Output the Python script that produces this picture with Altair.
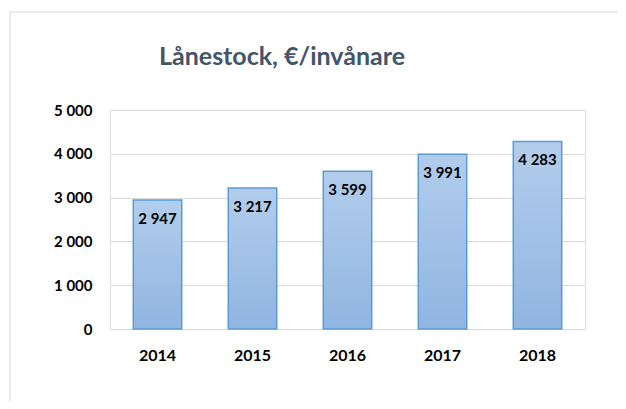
import altair as alt
import pandas as pd

years = ["2014", "2015", "2016", "2017", "2018"]
values = [2947, 3217, 3599, 3991, 4283]
y_ticks = [0, 1000, 2000, 3000, 4000, 5000]
title_text = "Lånestock, €/invånare"

df = pd.DataFrame({"year": years, "value": values})

FONT = "Lato"
W, H = 475, 219

x_enc = alt.X("year:N", sort=years, title=None,
              scale=alt.Scale(paddingInner=0.49, paddingOuter=0.245),
              axis=alt.Axis(labelAngle=0, labelFont=FONT, labelFontSize=16,
                            labelFontWeight="bold", labelColor="#000000",
                            labelPadding=18, ticks=False, domain=False, grid=False))
y_enc = alt.Y("value:Q", title=None,
              scale=alt.Scale(domain=[0, 5000], nice=False),
              axis=alt.Axis(values=y_ticks, labelFont=FONT, labelFontSize=15,
                            labelFontWeight="bold", labelColor="#000000",
                            labelPadding=18, ticks=False, domain=False,
                            grid=True, gridColor="#d9d9d9", gridWidth=1,
                            labelExpr="replace(format(datum.value, ','), ',', ' ')"))

base = alt.Chart(df)

bars = base.mark_bar(
    fill=alt.Gradient(gradient="linear", x1=0, y1=0, x2=0, y2=1,
                      stops=[alt.GradientStop(offset=0, color="#b2cdec"),
                             alt.GradientStop(offset=1, color="#90b5e1")]),
    stroke="#5b9bd5", strokeWidth=1.5,
).encode(x=x_enc, y=y_enc)

labels = base.transform_calculate(
    label="replace(format(datum.value, ','), ',', ' ')"
).mark_text(font=FONT, fontSize=15, fontWeight="bold", color="#000000",
            baseline="middle", dy=19).encode(
    x=alt.X("year:N", sort=years), y="value:Q", text="label:N")

title = alt.Chart(pd.DataFrame({"t": [title_text]})).mark_text(
    font=FONT, fontSize=25, fontWeight="bold", color="#44546a",
    align="center", baseline="middle").encode(
    x=alt.value(172), y=alt.value(-53), text="t:N")

frame_left = alt.Chart(pd.DataFrame({"a": [0]})).mark_rule(
    color="#d9d9d9", strokeWidth=1).encode(
    x=alt.value(-100), y=alt.value(-98), y2=alt.value(300))
frame_top = alt.Chart(pd.DataFrame({"a": [0]})).mark_rule(
    color="#d9d9d9", strokeWidth=1).encode(
    x=alt.value(-100), x2=alt.value(520), y=alt.value(-98))

chart = alt.layer(frame_left, frame_top, bars, labels, title).properties(
    width=W, height=H,
    padding={"left": 102, "top": 102, "right": 33, "bottom": 72},
    autosize=alt.AutoSizeParams(type="none"),
).configure_view(stroke=None).configure(background="#ffffff")

chart.save("out.html", embed_options={"renderer": "svg", "actions": False})
